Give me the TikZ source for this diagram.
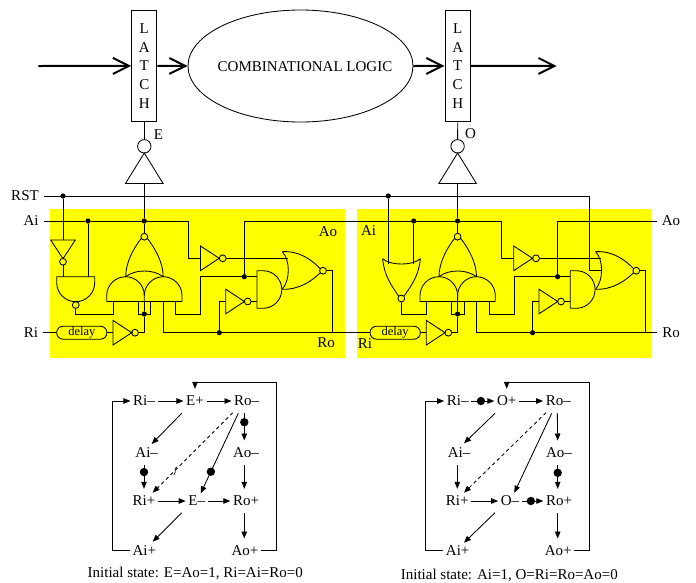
\documentclass[tikz,border=0pt]{standalone}
\usepackage{fontspec}
\setmainfont{Liberation Serif}
\usetikzlibrary{arrows.meta,shapes.geometric,shapes.misc}
\definecolor{blockyellow}{RGB}{255,255,0}
\tikzset{
	every node/.style={font=\fontsize{15}{18}\selectfont},
	wire/.style={line width=0.85pt},
	jdot/.style={circle,fill=black,inner sep=0,outer sep=0,minimum size=5.2pt},
	tokdot/.style={circle,fill=black,inner sep=0,outer sep=0,minimum size=8.4pt},
	bubble/.style={circle,draw,line width=0.85pt,inner sep=0,outer sep=0,minimum size=6.8pt},
	invgate/.style={isosceles triangle,isosceles triangle stretches,draw,line width=0.85pt,inner sep=0,outer sep=0,minimum width=24.6pt,minimum height=18.7pt,anchor=lower side},
	biggate/.style={invgate,minimum width=37.6pt,minimum height=30.5pt,shape border rotate=90},
	latch/.style={draw,line width=1pt,align=center,inner sep=0,minimum width=25.3pt,minimum height=111.7pt,font=\fontsize{15}{18.6}\selectfont},
	delaybox/.style={rounded rectangle,draw,line width=0.85pt,inner sep=0,minimum width=50.3pt,minimum height=13pt,font=\fontsize{12.5}{14}\selectfont},
	sig/.style={inner xsep=5pt,inner ysep=0pt},
	stg/.style={inner xsep=2.5pt,inner ysep=0pt,minimum height=24pt},
	bigarrow/.style={line width=2pt,-{Straight Barb[length=16pt,width=16pt,line width=2pt]}},
	stgarrow/.style={line width=0.85pt,-{Triangle[length=7pt,width=5.5pt]}},
	dashline/.style={dash pattern=on 3.5pt off 3pt}
}
\begin{document}
\begin{tikzpicture}[x=1pt,y=-1pt]
	\useasboundingbox (0,0) rectangle (696,582);
	\fill[blockyellow] (50,209.3) rectangle (345,357.6);
	\fill[blockyellow] (357,209.3) rectangle (651.8,357.6);
	% pipeline
	\coordinate (in) at (38.3,66);
	\coordinate (out) at (556.7,66);
	\node[latch] at (144.3,65.9) (latchl) {L\\A\\T\\C\\H};
	\node[latch] at (457.7,65.9) (latchr) {L\\A\\T\\C\\H};
	\node[ellipse,draw,line width=0.85pt,inner sep=0,minimum width=225pt,minimum height=112pt] at (300.5,66) (logic) {};
	\node at (305,66.5) (logictext) {COMBINATIONAL LOGIC};
	\draw[bigarrow] (in)--(latchl.west);
	\draw[bigarrow] (latchl.east)--(logic.west);
	\draw[bigarrow] (logic.east)--(latchr.west);
	\draw[bigarrow] (latchr.east)--(out);
	\node at (158.5,135) (elabel) {E};
	\node at (470.5,134) (olabel) {O};
	% the two controllers
	\foreach \n/\dx in {l/0,r/313.3}{
		\begin{scope}[shift={(\dx,0)}]
			\node[jdot] at (144.3,221) (aic\n) {};
			\node[jdot] at (144.3,314) (cdot\n) {};
			\node[jdot] at (244.3,276.7) (aod\n) {};
			\node[jdot] at (219.3,332.7) (rod\n) {};
			\node[bubble] at (144.3,236.7) (cbub\n) {};
			\node[bubble,minimum size=13.4pt] at (144.3,146.3) (lbub\n) {};
			\node[biggate] at (144.3,183.5) (ltri\n) {};
			\node[invgate] at (200.5,258.3) (inva\n) {};
			\node[bubble] at (222.7,258.3) (buba\n) {};
			\node[invgate] at (225.7,301.5) (invb\n) {};
			\node[bubble] at (247.7,301.5) (bubb\n) {};
			\node[invgate] at (113,332.7) (invd\n) {};
			\node[bubble] at (135,332.7) (bubd\n) {};
			\node[bubble] at (323,270.7) (bubo\n) {};
			\coordinate (cin\n) at (113,301.5);
			\coordinate (orin\n) at (287.5,258.3);
			\coordinate (andin\n) at (257,276.7);
			\coordinate (andib\n) at (257,301.5);
			% C-element
			\draw[wire] (106.7,301.5)--(182,301.5);
			\draw[wire] (106.7,301.5)--(106.7,295.5) .. controls (106.7,285.2) and (115.3,276.7) .. (125.7,276.7) .. controls (136,276.7) and (144.3,285.2) .. (144.3,295.5)--(144.3,301.5);
			\draw[wire] (144.3,295.5) .. controls (144.3,285.2) and (152.9,276.7) .. (163.2,276.7) .. controls (173.5,276.7) and (182,285.2) .. (182,295.5)--(182,301.5);
			\draw[wire] (125.7,276.7) .. controls (131,272.6) and (137.8,271) .. (144.3,271) .. controls (150.8,271) and (157.6,272.6) .. (163.2,276.7);
			\draw[wire] (125.7,276.7) .. controls (125.7,263) and (133,249) .. (141.3,238.3);
			\draw[wire] (163.2,276.7) .. controls (163.2,263) and (155.6,249) .. (147.3,238.3);
			% output gates
			\draw[wire] (257,270.7)--(263,270.7) .. controls (273.4,270.7) and (281.8,279.1) .. (281.8,289.5) .. controls (281.8,299.9) and (273.4,308.3) .. (263,308.3)--(257,308.3)--cycle;
			\draw[wire] (282.3,251.7) .. controls (290.3,260) and (290.3,280) .. (282.3,289.3);
			\draw[wire] (282.3,251.7) .. controls (299,250.5) and (312,260) .. (320.3,268.7);
			\draw[wire] (282.3,289.3) .. controls (299,289.8) and (312,281) .. (320.3,272.7);
			% wires
			\draw[wire] (latch\n.south)--(lbub\n);
			\draw[wire] (lbub\n)--(ltri\n.apex);
			\draw[wire] (ltri\n.lower side)--(aic\n);
			\draw[wire] (aic\n)--(cbub\n);
			\draw[wire] (aic\n) -| (188,258.3)--(inva\n.lower side);
			\draw[wire] (buba\n)--(orin\n);
			\draw[wire] (138.3,301.5) |- (cdot\n) -| (150.7,301.5);
			\draw[wire] (cdot\n)--(144.3,301.5);
			\draw[wire] (bubd\n) -| (cdot\n);
			\draw[wire] (invd\n.apex)--(bubd\n);
			\draw[wire] (175.7,301.5) |- (200.7,314) |- (aod\n);
			\draw[wire] (aod\n)--(andin\n);
			\draw[wire] (rod\n) |- (invb\n.lower side);
			\draw[wire] (bubb\n)--(andib\n);
			\draw[wire] (bubo\n) -| (332.3,332.7);
		\end{scope}
	}
	% signal labels
	\node[sig] at (25,196) (rst) {RST};
	\node[sig] at (31,221) (ai) {Ai};
	\node[sig] at (31,332.7) (ri) {Ri};
	\node at (328,232) (ao) {Ao};
	\node at (326,342.7) (ro) {Ro};
	\node at (368.5,231) (ai2) {Ai};
	\node at (365,344) (ri2) {Ri};
	\node[sig] at (671,221) (ao2) {Ao};
	\node[sig] at (671,332.7) (ro2) {Ro};
	\node[delaybox] at (81.8,332.7) (delayl) {delay};
	\node[delaybox] at (395.2,332.7) (delayr) {delay};
	\node[jdot] at (63,196) (rstl) {};
	\node[jdot] at (388.3,196) (rstr) {};
	\node[jdot] at (88,221) (ail) {};
	\node[jdot] at (413.7,221) (air) {};
	\coordinate (rstc) at (589.3,196);
	\coordinate (orpin) at (601.7,270.7);
	% input gates
	\node[invgate,shape border rotate=270] at (63,240) (invr) {};
	\node[bubble] at (63,261.7) (bubr) {};
	\node[bubble] at (75.7,305) (nandb) {};
	\node[bubble] at (401.3,298.5) (norb) {};
	\draw[wire] (56.7,276.7)--(56.7,282.7) .. controls (56.7,293.2) and (65.2,301.7) .. (75.7,301.7) .. controls (86.2,301.7) and (94.7,293.2) .. (94.7,282.7)--(94.7,276.7)--cycle;
	\draw[wire] (382.7,258.7) .. controls (390,265.8) and (413,265.8) .. (420.3,258.7);
	\draw[wire] (382.7,258.7) .. controls (384,275) and (391,285) .. (398.8,296.3);
	\draw[wire] (420.3,258.7) .. controls (419,275) and (412,285) .. (403.8,296.3);
	% connections
	\draw[wire] (rst)--(rstc) |- (orpin);
	\draw[wire] (rstl)--(invr.lower side);
	\draw[wire] (bubr)--(63,276.7);
	\draw[wire] (invr.apex)--(bubr);
	\draw[wire] (ai)--(ail);
	\draw[wire] (ail)--(aicl);
	\draw[wire] (ail)--(88,276.7);
	\draw[wire] (nandb) |- (113,314)--(cinl);
	\draw[wire] (norb) |- (426.3,314)--(cinr);
	\draw[wire] (rstr)--(388.3,263.7);
	\draw[wire] (air)--(413.7,263.7);
	\draw[wire] (air)--(aicr);
	\draw[wire] (aodl) |- (air);
	\draw[wire] (aodr) |- (ao2);
	\draw[wire] (ri)--(delayl);
	\draw[wire] (delayl.east)--(invdl.lower side);
	\draw[wire] (delayr.east)--(invdr.lower side);
	\draw[wire] (163.3,301.5) |- (delayr.west);
	\draw[wire] (476.6,301.5) |- (ro2);
	% graph for E
	\node[stg] at (144,401) (rim) {Ri–};
	\node[stg] at (195,401) (ep) {E+};
	\node[stg] at (246.7,401) (rom) {Ro–};
	\node[stg] at (146.7,452.7) (aim) {Ai–};
	\node[stg] at (246,452.7) (aom) {Ao–};
	\node[stg] at (144,501) (rip) {Ri+};
	\node[stg] at (196.7,501) (em) {E–};
	\node[stg] at (246,501) (rop) {Ro+};
	\node[stg] at (144.3,550.7) (aip) {Ai+};
	\node[stg] at (245,550.7) (aop) {Ao+};
	\draw[stgarrow] (rim)--(ep);
	\draw[stgarrow] (ep)--(rom);
	\draw[stgarrow] ([shift={(-13.3,12.3)}]ep.center)--([shift={(5,-8.7)}]aim.center);
	\draw[stgarrow,dashline] ([shift={(-14,11.7)}]rom.center)--([shift={(8.7,-8.3)}]rip.center);
	\draw[wire,line width=0.7pt] (176.8,467) .. controls (173,469) and (177,471) .. (174,475);
	\draw[stgarrow] ([shift={(-8.4,12.3)}]rom.center)--([shift={(4,-7.7)}]em.center) node[tokdot,pos=.73] (tok1) {};
	\draw[stgarrow] ([xshift=-2.4pt]rom.south)--([xshift=-1.7pt]aom.north) node[tokdot,pos=.33] (tok2) {};
	\draw[stgarrow] ([xshift=-1.7pt]aom.south)--([xshift=-1.7pt]rop.north);
	\draw[stgarrow] (aim.south -| rip.north)--(rip) node[tokdot,pos=.3] (tok3) {};
	\draw[stgarrow] (rip)--(em);
	\draw[stgarrow] (em)--(rop);
	\draw[stgarrow] ([shift={(-15,11.7)}]em.center)--([shift={(8.4,-9)}]aip.center);
	\draw[stgarrow] ([xshift=-1.7pt]rop.south)--([xshift=-.7pt]aop.north);
	\draw[stgarrow] (aip.west) -| (112.7,401)--(rim.west);
	\draw[stgarrow] (aop.east) -| (276,382.3) -| (ep.north);
	\node at (195.3,573.3) (cap1) {Initial state: E=Ao=1, Ri=Ai=Ro=0};
	% graph for O
	\node[stg] at (457.7,401) (2rim) {Ri–};
	\node[stg] at (506.7,401) (2op) {O+};
	\node[stg] at (558.3,401) (2rom) {Ro–};
	\node[stg] at (459,452.7) (2aim) {Ai–};
	\node[stg] at (559,452.7) (2aom) {Ao–};
	\node[stg] at (457.3,501) (2rip) {Ri+};
	\node[stg] at (510,501) (2om) {O–};
	\node[stg] at (559,501) (2rop) {Ro+};
	\node[stg] at (457.7,550.7) (2aip) {Ai+};
	\node[stg] at (558.3,550.7) (2aop) {Ao+};
	\draw[stgarrow] (2rim)--(2op) node[tokdot,pos=.42] (2tok1) {};
	\draw[stgarrow] (2op)--(2rom);
	\draw[stgarrow] ([shift={(-11.7,12.3)}]2op.center)--([shift={(5,-9.4)}]2aim.center);
	\draw[stgarrow,dashline] ([shift={(-12.3,11.7)}]2rom.center)--([shift={(6.7,-8.3)}]2rip.center);
	\draw[stgarrow] ([shift={(-6.6,12.3)}]2rom.center)--([shift={(4.3,-8.3)}]2om.center);
	\draw[stgarrow] ([xshift=-1pt]2rom.south)--([xshift=-1.3pt]2aom.north);
	\draw[stgarrow] ([xshift=-1.3pt]2aom.south)--([xshift=-1.3pt]2rop.north) node[tokdot,pos=.33] (2tok2) {};
	\draw[stgarrow] (2aim.south -| 2rip.north)--(2rip);
	\draw[stgarrow] (2rip)--(2om);
	\draw[stgarrow] (2om)--(2rop) node[tokdot,pos=.42] (2tok3) {};
	\draw[stgarrow] ([shift={(-15,11.7)}]2om.center)--([shift={(6.3,-8)}]2aip.center);
	\draw[stgarrow] ([xshift=-1.3pt]2rop.south)--([xshift=-.6pt]2aop.north);
	\draw[stgarrow] (2aip.west) -| (425.7,401)--(2rim.west);
	\draw[stgarrow] (2aop.east) -| (589,382.3) -| (2op.north);
	\node at (509.3,575.7) (cap2) {Initial state: Ai=1, O=Ri=Ro=Ao=0};
\end{tikzpicture}
\end{document}
